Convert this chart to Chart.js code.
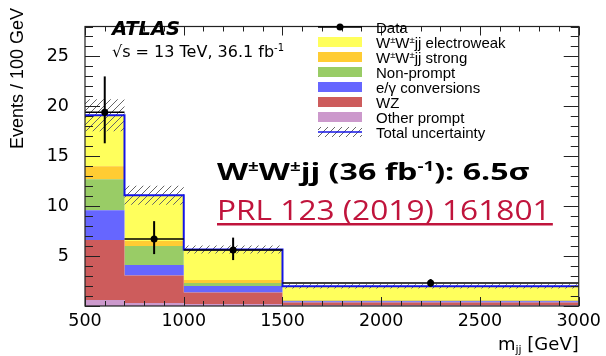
<!DOCTYPE html>
<html>
<head>
<meta charset="utf-8">
<title>W±W±jj m_jj distribution</title>
<script src="https://cdn.jsdelivr.net/npm/chart.js@4/dist/chart.umd.min.js"></script>
<style>
  body { margin: 0; background: #fff; }
  #wrap { width: 606px; height: 356px; }
</style>
</head>
<body>
<div id="wrap"><canvas id="mjj" width="606" height="356"></canvas></div>
<script>
// bin edges, m_jj [GeV]
const binEdges = [500, 700, 1000, 1500, 3000];

// expected yields per bin, events / 100 GeV (stacked bottom to top)
const otherPrompt = [0.6, 0.3, 0.2, 0.08];
const wz = [6.0, 2.75, 1.15, 0.27];
const conversions = [3.0, 1.05, 0.65, 0.12];
const nonPrompt = [3.1, 1.9, 0.3, 0.05];
const wwStrong = [1.3, 0.5, 0.3, 0.08];
const wwEwk = [5.1, 4.6, 3.05, 1.37];
const totalUnc = [1.6, 0.95, 0.4, 0.22];

// observed data
const dataX = [600, 850, 1250, 2250];
const dataY = [19.4, 6.7, 5.6, 2.3];
const dataErrUp = [3.6, 1.8, 1.25, 0.4];
const dataErrDown = [3.1, 1.5, 1.0, 0.37];

const xTicks = [500, 1000, 1500, 2000, 2500, 3000];
const yTicks = [5, 10, 15, 20, 25];

const components = [
  { label: 'Other prompt', vals: otherPrompt, color: '#cc99cc' },
  { label: 'WZ', vals: wz, color: '#cd5c5c' },
  { label: 'e/γ conversions', vals: conversions, color: '#6666ff' },
  { label: 'Non-prompt', vals: nonPrompt, color: '#99cc66' },
  { label: 'W±W±jj strong', vals: wwStrong, color: '#ffcc33' },
  { label: 'W±W±jj electroweak', vals: wwEwk, color: '#ffff5c' }
];

const SANS = '"Liberation Sans", Arial, sans-serif';
const WIDE = '"DejaVu Sans", sans-serif';
const OPEN = '"Open Sans", "Noto Sans", sans-serif';

// histogram as step points: one point per bin edge, last value repeated
function stepPoints(vals) {
  return binEdges.map((x, i) => ({ x, y: vals[Math.min(i, vals.length - 1)] }));
}

function hatchPattern(ctx) {
  const c = document.createElement('canvas');
  c.width = 7; c.height = 7;
  const g = c.getContext('2d');
  g.strokeStyle = '#666';
  g.lineWidth = 1;
  g.beginPath();
  g.moveTo(0, 7); g.lineTo(7, 0);
  g.moveTo(-1, 1); g.lineTo(1, -1);
  g.moveTo(6, 8); g.lineTo(8, 6);
  g.stroke();
  return ctx.createPattern(c, 'repeat');
}

const canvas = document.getElementById('mjj');
const ctx = canvas.getContext('2d');
const hatch = hatchPattern(ctx);

const datasets = [];
let cum = [0, 0, 0, 0];
components.forEach((c, i) => {
  cum = cum.map((v, j) => v + c.vals[j]);
  datasets.push({
    label: c.label,
    data: stepPoints(cum),
    stepped: true,
    borderWidth: 0,
    pointRadius: 0,
    backgroundColor: c.color,
    fill: i === 0 ? 'origin' : i - 1,
    order: 10
  });
});
const total = cum;

// uncertainty band
datasets.push({
  label: 'Total uncertainty',
  data: stepPoints(total.map((v, i) => v + totalUnc[i])),
  stepped: true, borderWidth: 0, pointRadius: 0,
  backgroundColor: hatch, fill: '+1', order: 5
});
datasets.push({
  label: 'unc-low',
  data: stepPoints(total.map((v, i) => v - totalUnc[i])),
  stepped: true, borderWidth: 0, pointRadius: 0, fill: false, order: 5
});
// outline of the total prediction
datasets.push({
  label: 'outline',
  data: stepPoints(total),
  stepped: true, borderColor: '#1414e6', borderWidth: 2, pointRadius: 0,
  fill: false, order: 3
});
const dataIndex = datasets.length;
datasets.push({
  label: 'Data',
  type: 'scatter',
  data: dataX.map((x, i) => ({ x, y: dataY[i] })),
  pointRadius: 3.5, pointBackgroundColor: '#000', pointBorderWidth: 0,
  order: 1
});

function drawParts(c, parts, x, y, font, supFont, rise) {
  let cx = x;
  parts.forEach(p => {
    c.font = p.sup ? supFont : font;
    c.fillText(p.t, cx, p.sup ? y - rise : y);
    cx += c.measureText(p.t).width;
  });
  return cx;
}

const decorations = {
  id: 'decorations',
  beforeDatasetDraw(chart, args) {
    if (args.index !== dataIndex) return;
    const { x, y } = chart.scales;
    const c = chart.ctx;
    c.save();
    c.strokeStyle = '#000';
    dataX.forEach((v, i) => {
      const px = x.getPixelForValue(v), py = y.getPixelForValue(dataY[i]);
      c.lineWidth = 2;
      c.beginPath();
      c.moveTo(px, y.getPixelForValue(dataY[i] + dataErrUp[i]));
      c.lineTo(px, y.getPixelForValue(dataY[i] - dataErrDown[i]));
      c.stroke();
      c.lineWidth = 1.5;
      c.beginPath();
      c.moveTo(x.getPixelForValue(binEdges[i]), py);
      c.lineTo(x.getPixelForValue(binEdges[i + 1]), py);
      c.stroke();
    });
    c.restore();
  },
  afterDatasetsDraw(chart) {
    const { x, y } = chart.scales;
    const a = chart.chartArea;
    const c = chart.ctx;
    c.save();
    c.strokeStyle = '#222';
    c.lineWidth = 1.2;
    c.strokeRect(a.left, a.top, a.right - a.left, a.bottom - a.top);
    c.beginPath();
    for (let v = 500; v <= 3000; v += 100) {
      const px = Math.round(x.getPixelForValue(v)) + 0.5;
      const len = v % 500 === 0 ? 9 : 5;
      c.moveTo(px, a.bottom); c.lineTo(px, a.bottom - len);
      c.moveTo(px, a.top); c.lineTo(px, a.top + len);
    }
    for (let v = 0; v <= 28; v += 1) {
      const py = Math.round(y.getPixelForValue(v)) + 0.5;
      const len = v % 5 === 0 ? 15 : 8;
      c.moveTo(a.left, py); c.lineTo(a.left + len, py);
      c.moveTo(a.right, py); c.lineTo(a.right - len, py);
    }
    c.lineWidth = 1;
    c.stroke();
    c.restore();
  },
  afterDraw(chart) {
    const c = chart.ctx;
    c.save();
    c.fillStyle = '#000';
    c.textBaseline = 'alphabetic';

    // axis titles
    c.save();
    c.translate(23, 8);
    c.rotate(-Math.PI / 2);
    c.textAlign = 'right';
    c.font = '18px ' + SANS;
    c.fillText('Events / 100 GeV', 0, 0);
    c.restore();

    c.textAlign = 'left';
    const xt = [{ t: 'm' }, { t: 'jj', sub: true }, { t: ' [GeV]' }];
    c.font = '18px ' + WIDE;
    let w = c.measureText('m [GeV]').width;
    c.font = '11px ' + WIDE;
    w += c.measureText('jj').width;
    let cx = chart.chartArea.right - w;
    xt.forEach(p => {
      c.font = (p.sub ? '11px ' : '18px ') + WIDE;
      c.fillText(p.t, cx, p.sub ? 353 : 350);
      cx += c.measureText(p.t).width;
    });

    // experiment label
    c.font = 'italic bold 19.5px ' + WIDE;
    c.fillText('ATLAS', 112, 35);
    drawParts(c, [{ t: '√s = 13 TeV, 36.1 fb' }, { t: '-1', sup: true }], 112, 57,
      '16px ' + WIDE, '10px ' + WIDE, 6);

    // legend
    const lx = 318, lw = 44, tx = 376;
    const rows = [27, 42, 57, 72, 87, 102, 117, 132];
    c.strokeStyle = '#000';
    c.lineWidth = 1.5;
    c.beginPath();
    c.moveTo(lx, rows[0]); c.lineTo(lx + lw, rows[0]);
    c.stroke();
    c.beginPath();
    c.arc(lx + lw / 2, rows[0], 3.5, 0, Math.PI * 2);
    c.fill();
    const legendOrder = [5, 4, 3, 2, 1, 0];
    legendOrder.forEach((k, i) => {
      c.fillStyle = components[k].color;
      c.fillRect(lx, rows[i + 1] - 5, lw, 10);
    });
    c.fillStyle = hatch;
    c.fillRect(lx, rows[7] - 5, lw, 10);
    c.strokeStyle = '#1414e6';
    c.beginPath();
    c.moveTo(lx, rows[7]); c.lineTo(lx + lw, rows[7]);
    c.stroke();

    c.fillStyle = '#000';
    const lf = '15px ' + SANS, sf = '9.5px ' + SANS;
    const ww = s => [{ t: 'W' }, { t: '±', sup: true }, { t: 'W' }, { t: '±', sup: true }, { t: s }];
    const texts = [
      [{ t: 'Data' }],
      ww('jj electroweak'),
      ww('jj strong'),
      [{ t: 'Non-prompt' }],
      [{ t: 'e/γ conversions' }],
      [{ t: 'WZ' }],
      [{ t: 'Other prompt' }],
      [{ t: 'Total uncertainty' }]
    ];
    texts.forEach((parts, i) => drawParts(c, parts, tx, rows[i] + 5.5, lf, sf, 5));

    // result annotation, set wide
    c.save();
    c.translate(217, 179.5);
    c.scale(1.34, 1);
    drawParts(c, [{ t: 'W' }, { t: '±', sup: true }, { t: 'W' }, { t: '±', sup: true },
      { t: 'jj (36 fb' }, { t: '-1', sup: true }, { t: '): 6.5σ' }],
      0, 0, 'bold 24px ' + OPEN, 'bold 14px ' + OPEN, 9);
    c.restore();

    c.fillStyle = '#c0143c';
    const ref = 'PRL 123 (2019) 161801';
    c.save();
    c.translate(217, 220);
    c.scale(1.13, 1);
    c.font = '28px ' + OPEN;
    c.fillText(ref, 0, 0);
    c.fillRect(0, 3, c.measureText(ref).width + 2, 2.5);
    c.restore();
    c.restore();
  }
};

new Chart(canvas, {
  type: 'line',
  data: { datasets },
  plugins: [decorations],
  options: {
    responsive: false,
    animation: false,
    devicePixelRatio: 1,
    layout: { padding: { top: 8, right: 24, left: 0, bottom: 0 } },
    plugins: { legend: { display: false }, tooltip: { enabled: false } },
    scales: {
      x: {
        type: 'linear', min: 500, max: 3000,
        afterBuildTicks: s => { s.ticks = xTicks.map(v => ({ value: v })); },
        afterFit: s => { s.height = 50; },
        grid: { display: false, drawTicks: false },
        border: { display: false },
        ticks: { color: '#000', padding: 5, maxRotation: 0, autoSkip: false,
          callback: v => String(v),
          font: { family: WIDE, size: 17.5 } }
      },
      y: {
        min: 0, max: 28,
        afterBuildTicks: s => { s.ticks = yTicks.map(v => ({ value: v })); },
        afterFit: s => { s.width = 85; },
        grid: { display: false, drawTicks: false },
        border: { display: false },
        ticks: { color: '#000', padding: 16, callback: v => String(v),
          font: { family: WIDE, size: 17.5 } }
      }
    }
  }
});
</script>
</body>
</html>
